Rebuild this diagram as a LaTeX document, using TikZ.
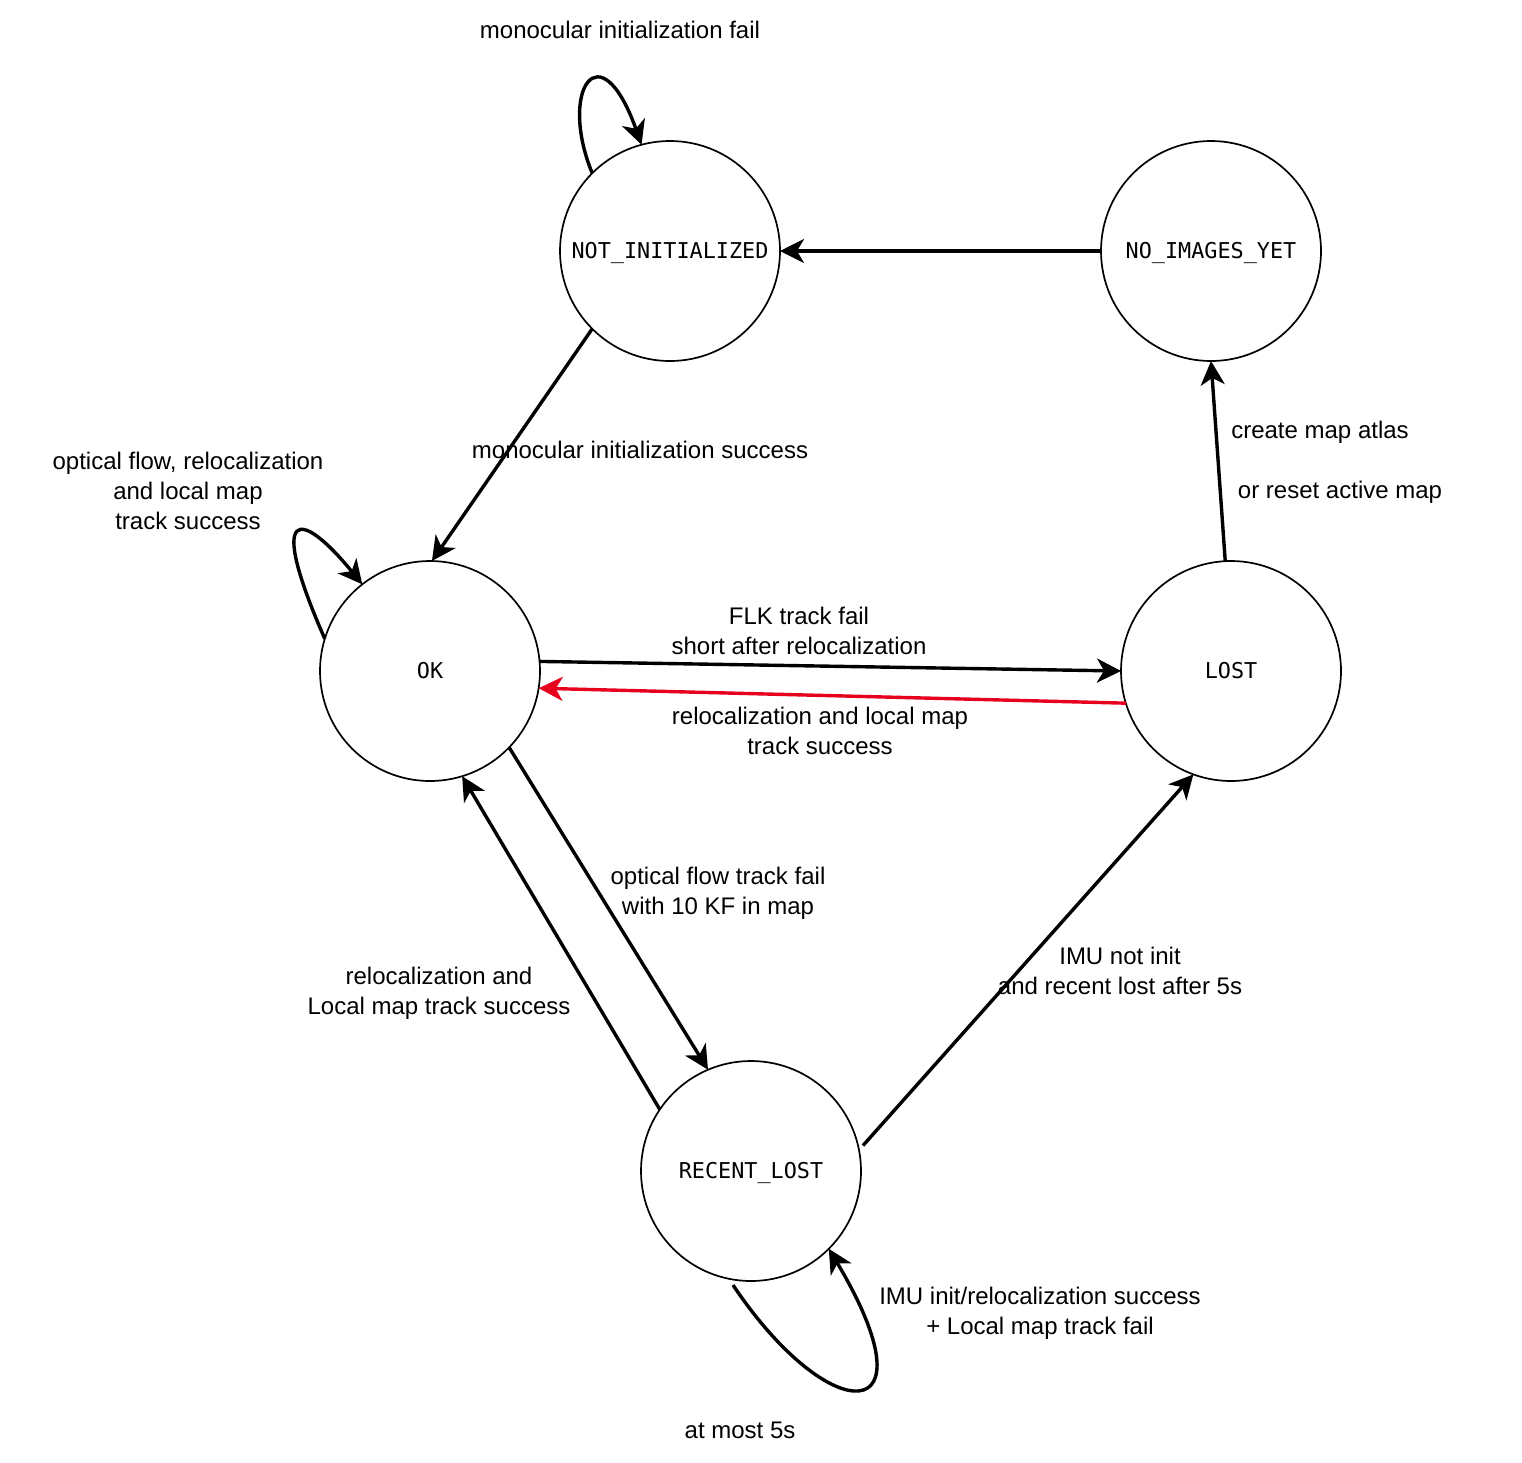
\documentclass[tikz,border=0pt]{standalone}
\usepackage{fontspec}
\setmainfont{Liberation Sans}
\newfontfamily\statefont{DejaVu Sans Mono}
\usetikzlibrary{arrows.meta}
\definecolor{edgered}{RGB}{230,0,30}
\begin{document}
\begin{tikzpicture}[x=1pt,y=-1pt,
  state/.style={circle,draw,line width=1.7pt,minimum size=220pt,inner sep=0pt,outer sep=0pt,
    text height=15.9pt,text depth=0pt,
    font=\statefont\fontsize{21.8}{26}\selectfont},
  edge/.style={line width=3.4pt,-{Stealth[length=24pt,width=24pt,inset=7pt]}},
  lbl/.style={font=\fontsize{24}{29.6}\selectfont,align=center,inner sep=0pt}]
\path[use as bounding box,fill=white] (0,0) rectangle (1522,1462);

\node[state] (NI)  at (670,251)  {NOT\_INITIALIZED};
\node[state] (NIY) at (1211,251) {NO\_IMAGES\_YET};
\node[state] (OK)  at (430,671)  {OK};
\node[state] (LO)  at (1231,671) {LOST};
\node[state] (RL)  at (751,1171) {RECENT\_LOST};

\coordinate (rlloop) at (733,1285);

% edges
\draw[edge] (NIY.west) -- (NI.east);
\draw[edge] (NI.225) -- (OK.89);
\draw[edge] (NI.135) .. controls (558,90) and (600,28) .. (NI.105.5);
\draw[edge] (OK.163) .. controls (266,505) and (300,508) .. (OK.128);
\draw[edge] (OK.5) -- (LO.180);
\draw[edge,draw=edgered,fill=edgered] (LO.197) -- (OK.351);
\draw[edge] (LO.93.6) -- (NIY.south);
\draw[edge] (OK.316.5) -- (RL.113.5);
\draw[edge] (RL.146) -- (OK.287);
\draw[edge,shorten <=6pt] (RL.11) -- (LO.250);
\draw[edge] (rlloop) .. controls (830,1430) and (937,1430) .. (RL.315);

% labels
\node[lbl] (l1) at (620,30) {monocular initialization fail};
\node[lbl] (l2) at (640,450) {monocular initialization success};
\node[lbl] (l3) at (188,491) {optical flow, relocalization\\and local map\\track success};
\node[lbl] (l4) at (799,631) {FLK track fail\\short after relocalization};
\node[lbl] (l5) at (820,731) {relocalization and local map\\track success};
\node[lbl] (l6) at (1320,432) {create map atlas};
\node[lbl] (l7) at (1340,492) {or reset active map};
\node[lbl] (l8) at (718,893) {optical flow track fail\\ with 10 KF in map};
\node[lbl] (l9) at (439,993) {relocalization and\\Local map track success};
\node[lbl] (l10) at (1120,971) {IMU not init\\and recent lost after 5s};
\node[lbl] (l11) at (1040,1313) {IMU init/relocalization success\\+ Local map track fail};
\node[lbl] (l12) at (740,1430) {at most 5s};
\end{tikzpicture}
\end{document}
